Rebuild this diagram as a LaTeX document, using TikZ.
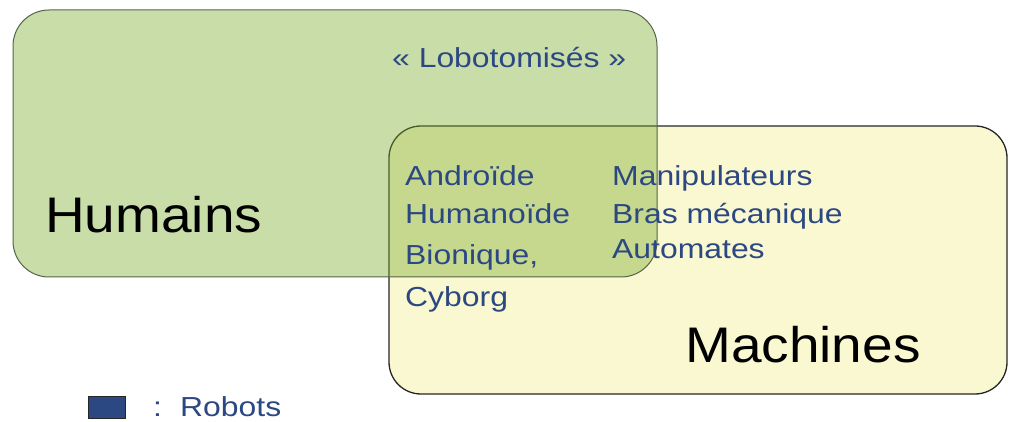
\documentclass[tikz,border=0pt]{standalone}
\usepackage{fontspec}
\setmainfont{Liberation Sans}
\newfontfamily\smallfam[FakeStretch=1.16]{Liberation Sans}
\newfontfamily\bigfam[FakeStretch=1.1]{Liberation Sans}
\definecolor{hgreen}{RGB}{122,170,42}
\definecolor{myellow}{RGB}{250,248,208}
\definecolor{txtblue}{RGB}{43,72,130}
\definecolor{gborder}{RGB}{85,100,75}
\begin{document}
\begin{tikzpicture}[x=1pt,y=-1pt,
  small/.style={anchor=base west,inner sep=0pt,text=txtblue,font=\smallfam\fontsize{27.5}{30}\selectfont},
  big/.style={anchor=base west,inner sep=0pt,text=black,font=\bigfam\fontsize{50}{55}\selectfont}]
\useasboundingbox (0,0) rectangle (1010,422);
\fill[white] (0,0) rectangle (1010,422);
% Machines box
\draw[fill=myellow,draw=black!85,line width=1.3pt,rounded corners=32pt] (389,126) rectangle (1007,394);
% Humains box (translucent, on top)
\draw[fill=hgreen,fill opacity=0.4,draw=gborder,line width=1pt,rounded corners=36pt] (13,10) rectangle (657,277);
% texts
\node[big] (hum) at (45,233) {Humains};
\node[big] (mach) at (685,362) {Machines};
\node[small] (lob) at (392,68) {« Lobotomisés »};
\node[small] (and) at (405,186) {Androïde};
\node[small] (huma) at (405,224) {Humanoïde};
\node[small] (bio) at (405,265) {Bionique,};
\node[small] (cyb) at (405,306) {Cyborg};
\node[small] (man) at (612,186) {Manipulateurs};
\node[small] (bras) at (612,224) {Bras mécanique};
\node[small] (aut) at (612,259) {Automates};
% legend
\draw[fill=txtblue,draw=black!85,line width=1pt] (88,396) rectangle (125,418);
\node[small] (col) at (153,416) {:};
\node[small] (rob) at (180,416) {Robots};
\end{tikzpicture}
\end{document}
